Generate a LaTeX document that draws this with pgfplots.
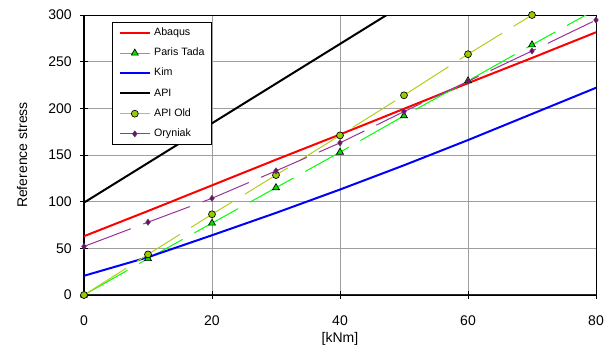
\documentclass[border=0pt]{standalone}
\usepackage{fontspec}
\setmainfont{Liberation Sans}
\usepackage{pgfplots}
\pgfplotsset{compat=1.18}
\definecolor{apiold}{HTML}{99CC00}
\definecolor{apioldline}{HTML}{B5CC1A}
\definecolor{parisg}{HTML}{00FF00}
\definecolor{parism}{HTML}{00E000}
\definecolor{ory}{HTML}{800080}
\definecolor{oryline}{HTML}{993399}
\begin{document}
\begin{tikzpicture}
\path[use as bounding box] (-63pt,-39pt) rectangle (393.75pt,221.25pt);
\draw[line width=1.5pt, black!85] (0,0) -- (384pt,0);
\draw[line width=1.5pt, black] (0,0) -- (0,210pt);
\begin{axis}[
  at={(0,0)}, anchor=south west,
  scale only axis, width=384pt, height=210pt,
  xmin=0, xmax=80, ymin=0, ymax=300,
  xtick={0,20,40,60,80}, ytick={0,50,100,150,200,250,300},
  xtick pos=bottom, ytick pos=left,
  grid=major, major grid style={color=black!38, line width=0.75pt},
  axis line style={line width=0.75pt, black},
  tick style={black, line width=0.75pt},
  tick align=center, major tick length=6pt,
  /pgf/number format/assume math mode=true,
  ticklabel style={font=\fontsize{10.5}{12}\selectfont},
  xticklabel style={anchor=center, yshift=-16.5pt},
  yticklabel style={anchor=east, inner sep=0pt, xshift=-6pt},
  xlabel={[kNm]}, ylabel={Reference stress},
  label style={font=\fontsize{10.5}{12}\selectfont},
  xlabel style={at={(axis description cs:0.5,-0.157)}, anchor=center},
  ylabel style={at={(axis description cs:-0.121,0.5)}, anchor=center, rotate=0},
  legend cell align=left,
  legend image code/.code={\draw[mark repeat=2,mark phase=2,#1] plot coordinates {(0pt,0pt) (11.25pt,0pt) (22.5pt,0pt)};},
  legend style={at={(0.054,0.976)}, anchor=north west, draw=black, line width=0.75pt, fill=white,
    font=\fontsize{8}{9.6}\selectfont, inner xsep=5pt, inner ysep=4pt,
    nodes={inner sep=0pt, text height=6pt, text depth=2pt},
    row sep=7.15pt, column sep=2.5pt},
]
\addplot[red, line width=1.5pt] coordinates {(0,63) (10,90) (20,117.5) (30,145) (40,172) (50,199.5) (60,227) (70,254) (80,281.5)};
\addlegendentry{Abaqus}
\addplot[parisg, line width=0.75pt, dash pattern=on 37.5pt off 10pt, mark=triangle*, mark size=3pt,
  mark options={solid, fill=parism, draw=black, line width=0.5pt}]
  coordinates {(0,0) (10,39) (20,77) (30,115) (40,153) (50,192) (60,229.5) (70,268)};
\addlegendentry{Paris Tada}
\addplot[forget plot, parisg, line width=0.75pt, dash pattern=on 20pt off 10pt] coordinates {(70,268) (80,306)};
\addplot[blue, line width=1.5pt] coordinates {(0,20.6) (10,40.5) (20,64) (30,88) (40,113) (50,139) (60,166) (70,194) (80,222)};
\addlegendentry{Kim}
\addplot[black, line width=1.5pt] coordinates {(0,99) (10,141.5) (20,184) (30,226.5) (40,269) (50,311.5) (60,354) (70,396.5) (80,439)};
\addlegendentry{API}
\addplot[apioldline, line width=0.75pt, dash pattern=on 37.5pt off 10pt, mark=*, mark size=2.6pt,
  mark options={solid, fill=apiold, draw=black, line width=0.5pt}]
  coordinates {(0,0) (10,43.5) (20,86.5) (30,128.5) (40,171) (50,214) (60,258) (70,300)};
\addlegendentry{API Old}
\addplot[oryline, line width=0.75pt, dash pattern=on 37.5pt off 10pt, mark=diamond*, mark size=2.3pt,
  mark options={solid, fill=ory, draw=black!70, line width=0.4pt}]
  coordinates {(0,52) (10,78) (20,103.6) (30,133) (40,163) (50,196.5) (60,229) (70,261.5) (80,294.6)};
\addlegendentry{Oryniak}
\end{axis}
\end{tikzpicture}
\end{document}
